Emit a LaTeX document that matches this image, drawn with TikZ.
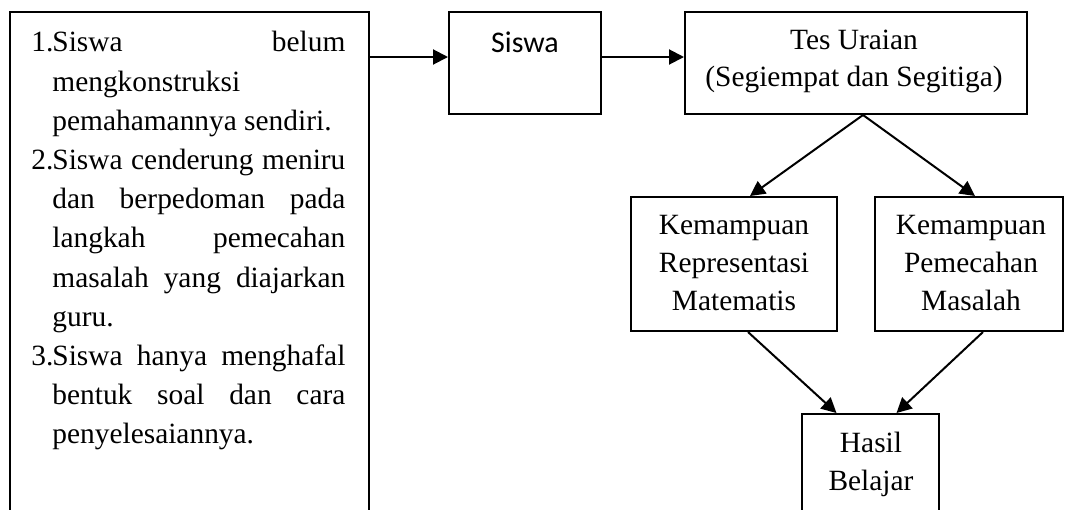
\documentclass[tikz,border=0pt]{standalone}
\usepackage{fontspec}
\setmainfont{Liberation Serif}
\newfontfamily\carlitofont{Carlito}
\usetikzlibrary{arrows.meta}
\tikzset{
  box/.style={draw, line width=1pt, inner sep=0pt},
  txt/.style={inner sep=0pt, align=center, font=\fontsize{14.7}{19}\selectfont},
  arr/.style={line width=1pt, -{Triangle[length=7.5pt,width=7.5pt]}},
}
\begin{document}
\begin{tikzpicture}[x=0.5pt,y=-0.5pt]
\useasboundingbox (0,0) rectangle (1065,509);
% boxes
\node[box, minimum width=179.5pt, minimum height=264pt] (lbox) at (189.5,276) {};
\node[box, minimum width=76pt, minimum height=51pt] (siswa) at (525,63) {};
\node[box, minimum width=171pt, minimum height=51pt] (tes) at (856,63) {};
\node[box, minimum width=103pt, minimum height=67pt] (krm) at (734,264) {};
\node[box, minimum width=94pt, minimum height=67pt] (kpm) at (969,264) {};
\node[box, minimum width=68.5pt, minimum height=73pt] (hasil) at (870.5,487) {};
% texts
\node[inner sep=0pt, anchor=north west, align=left, font=\fontsize{14.7}{19.6}\selectfont] (list) at (31,31) {%
\makebox[10.5pt][l]{1.}\makebox[146.5pt][s]{Siswa belum}\\
\hspace*{10.5pt}mengkonstruksi\\
\hspace*{10.5pt}pemahamannya sendiri.\\
\makebox[10.5pt][l]{2.}\makebox[146.5pt][s]{Siswa cenderung meniru}\\
\hspace*{10.5pt}\makebox[146.5pt][s]{dan berpedoman pada}\\
\hspace*{10.5pt}\makebox[146.5pt][s]{langkah pemecahan}\\
\hspace*{10.5pt}\makebox[146.5pt][s]{masalah yang diajarkan}\\
\hspace*{10.5pt}guru.\\
\makebox[10.5pt][l]{3.}\makebox[146.5pt][s]{Siswa hanya menghafal}\\
\hspace*{10.5pt}\makebox[146.5pt][s]{bentuk soal dan cara}\\
\hspace*{10.5pt}penyelesaiannya.};
\node[inner sep=0pt, anchor=base, font=\carlitofont\fontsize{15}{18}\selectfont] (tsiswa) at (525,52) {Siswa};
\node[txt, anchor=north, font=\fontsize{14.7}{18.5}\selectfont] (ttes) at (854,30) {Tes Uraian\\(Segiempat dan Segitiga)};
\node[txt, anchor=north] (tkrm) at (734,215) {Kemampuan\\Representasi\\Matematis};
\node[txt, anchor=north] (tkpm) at (971,215) {Kemampuan\\Pemecahan\\Masalah};
\node[txt, anchor=north] (thasil) at (871,432) {Hasil\\Belajar};
% connectors
\draw[arr] ([xshift=-1pt,yshift=3pt]lbox.east |- siswa.west) -- ([yshift=3pt]siswa.west);
\draw[arr] ([yshift=3pt]siswa.east) -- ([yshift=3pt]tes.west);
\draw[arr] ([xshift=3.5pt]tes.south) -- ([xshift=8pt]krm.north);
\draw[arr] ([xshift=3.5pt]tes.south) -- ([xshift=3pt]kpm.north);
\draw[arr] ([xshift=7pt]krm.south) -- ([xshift=-17pt]hasil.north);
\draw[arr] ([xshift=7pt]kpm.south) -- ([xshift=13pt]hasil.north);
\end{tikzpicture}
\end{document}
